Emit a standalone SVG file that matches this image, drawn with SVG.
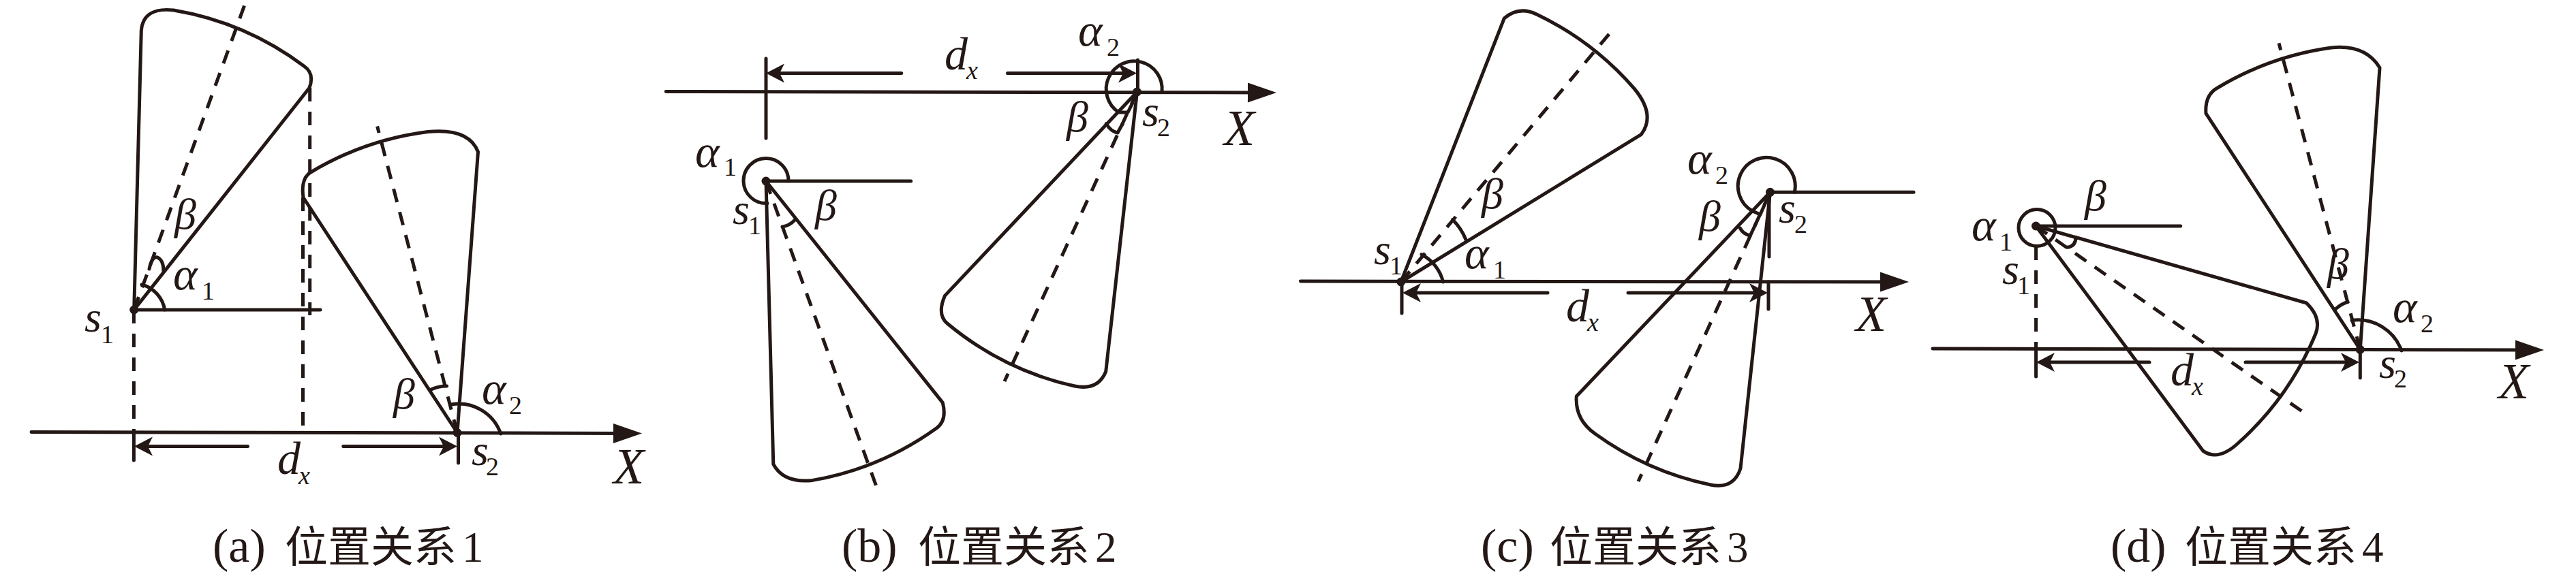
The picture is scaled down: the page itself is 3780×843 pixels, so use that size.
<svg xmlns="http://www.w3.org/2000/svg" width="3780" height="843" viewBox="0 0 3780 843">
<style>
.l{fill:none;stroke:#231815;stroke-width:5;stroke-linecap:round;stroke-linejoin:round}
.d{fill:none;stroke:#231815;stroke-width:5;stroke-dasharray:20 15;stroke-linecap:butt}
.ax{marker-end:url(#axh)}
.dm{marker-end:url(#dimh)}
.dot{fill:#231815}
text{fill:#231815;font-family:"Liberation Serif","Noto Sans CJK SC",serif}
.m{font-size:64px;font-style:italic}
.a{font-size:68px;font-style:italic}
.e{font-size:68px;font-style:italic}
.xl{font-size:74px;font-style:italic}
.s{font-size:38px;font-style:normal}
.si{font-size:38px;font-style:italic}
.c{font-size:63px}
.p{font-size:70px}
</style>
<defs>
<marker id="axh" markerUnits="userSpaceOnUse" viewBox="-25 -16 50 32" refX="0" refY="0" markerWidth="50" markerHeight="32" orient="auto"><path d="M20,0L-22,-14.5L-22,14.5Z" fill="#231815"/></marker>
<marker id="dimh" markerUnits="userSpaceOnUse" viewBox="-15 -16 35 32" refX="0" refY="0" markerWidth="35" markerHeight="32" orient="auto"><path d="M15,0L-12,-14L-5,0L-12,14Z" fill="#231815"/></marker>
</defs>

<g id="panel-a">
<path class="l" d="M196.7,455L207.3,45Q210,10 255,15A441,441 0 0 1 446,97Q462,108 454,129Z"/>
<path class="l" d="M671,635.5L701.5,223Q688,187.7 628,193.5A441,441 0 0 0 456,253Q441,262 445,290Z"/>
<path class="d" d="M196.7,455L361.6,0"/>
<path class="d" d="M671,635.5L553.6,185.5"/>
<path class="d" d="M454.7,129V463"/>
<path class="d" d="M196.4,455V634"/>
<path class="d" d="M444.5,290V640"/>
<path class="l" d="M196.7,455H470"/>
<path class="l ax" d="M46,634.4L922,636.5"/>
<path class="l" d="M196.4,634V676M672.5,636V680"/>
<path class="l dm" d="M363.5,655.4H212"/>
<path class="l dm" d="M503.8,655.4H656"/>
<path class="l" d="M241.7,455A46,46 0 0 0 208,418"/>
<path class="l" d="M219,395Q223,376 231,378Q240,382 240,398"/>
<path class="l" d="M662,594A65,65 0 0 1 734.7,637"/>
<path class="l" d="M631.4,572.6Q643,567 655.6,567"/>
<circle class="dot" cx="196.7" cy="455" r="6.5"/><circle class="dot" cx="671" cy="635.5" r="6.5"/>
<text class="m" x="124" y="487">s<tspan class="s" x="148" y="504">1</tspan></text>
<text class="m" x="256" y="336">β</text>
<text class="a" x="254" y="425">α<tspan class="s" x="296" y="440">1</tspan></text>
<text class="m" x="577" y="600">β</text>
<text class="a" x="707" y="593">α<tspan class="s" x="747" y="608">2</tspan></text>
<text class="m" x="692" y="683">s<tspan class="s" x="713" y="698">2</tspan></text>
<text class="e" x="407" y="696">d<tspan class="si" x="438" y="711">x</tspan></text>
<text class="xl" x="900" y="710">X</text>
<text class="c" x="312" y="825"><tspan class="p">(a)</tspan><tspan x="418">位置关系</tspan><tspan dx="8">1</tspan></text>
</g>

<g id="panel-b">
<path class="l" d="M1124,266L1134.8,681.7Q1150,710 1192.4,705.4A441,441 0 0 0 1374,629Q1390,617.6 1383.3,591.4Z"/>
<path class="l" d="M1668.5,135L1386.4,434.4Q1374.6,462 1390,475A441,441 0 0 0 1577,567Q1611,574 1622.7,545.7Z"/>
<path class="d" d="M1124,266L1288,720"/>
<path class="d" d="M1668.5,135L1474,560"/>
<path class="l" d="M1124,266H1336.7"/>
<path class="l ax" d="M977.3,134.4L1853,136"/>
<path class="l" d="M1124,86V203M1669.5,88V135"/>
<path class="l dm" d="M1322.7,107.5H1139"/>
<path class="l dm" d="M1478.5,107.5H1653"/>
<path class="l" d="M1157,266A33,33 0 1 0 1126,298.5"/>
<path class="l" d="M1148,333Q1158,332 1167,322.6"/>
<path class="l" d="M1705,135A41,41 0 1 0 1641.7,165L1655,165L1661.7,151.7"/>
<path class="l" d="M1623.3,181.7Q1630,193 1640,195L1647.3,181.7"/>
<circle class="dot" cx="1124" cy="266" r="6.5"/><circle class="dot" cx="1668.5" cy="135" r="6.5"/>
<text class="a" x="1020" y="245">α<tspan class="s" x="1062" y="258">1</tspan></text>
<text class="m" x="1075" y="329">s<tspan class="s" x="1098" y="344">1</tspan></text>
<text class="m" x="1196" y="323">β</text>
<text class="a" x="1582" y="67">α<tspan class="s" x="1624" y="82">2</tspan></text>
<text class="e" x="1386" y="102">d<tspan class="si" x="1418" y="116">x</tspan></text>
<text class="m" x="1565" y="193">β</text>
<text class="m" x="1676" y="185">s<tspan class="s" x="1698" y="200">2</tspan></text>
<text class="xl" x="1796" y="213">X</text>
<text class="c" x="1235" y="825"><tspan class="p">(b)</tspan><tspan x="1347">位置关系</tspan><tspan dx="8">2</tspan></text>
</g>

<g id="panel-c">
<path class="l" d="M2055.8,414L2207.3,26.9Q2229,8 2255.8,21.5A441,441 0 0 1 2398,130Q2430,168.5 2408.5,197.3Z"/>
<path class="l" d="M2597.5,282.3L2313.3,582Q2311,616 2340.6,637A441,441 0 0 0 2510,712Q2544,719 2554,688Z"/>
<path class="d" d="M2055.8,414L2364.8,45.7"/>
<path class="d" d="M2597.5,282.3L2404,707"/>
<path class="l" d="M2597.5,282.3H2808"/>
<path class="l ax" d="M1908.5,413L2781,414"/>
<path class="l" d="M2596,282V377M2057,414V460M2595,414V454"/>
<path class="l dm" d="M2271,430H2073"/>
<path class="l dm" d="M2389,430H2579"/>
<path class="l" d="M2117.6,414A62,62 0 0 0 2086,373.7"/>
<path class="l" d="M2131.5,322.6A88,88 0 0 1 2151,352"/>
<path class="l" d="M2633.3,282.3A42,42 0 1 0 2571.7,310L2583,315L2591,296.7"/>
<path class="l" d="M2553.3,335Q2558,344 2568.3,346L2577.3,326.7"/>
<circle class="dot" cx="2055.8" cy="414" r="6.5"/><circle class="dot" cx="2597.5" cy="282.3" r="6.5"/>
<text class="m" x="2016" y="388">s<tspan class="s" x="2039" y="403">1</tspan></text>
<text class="m" x="2174" y="306">β</text>
<text class="a" x="2149" y="394">α<tspan class="s" x="2191" y="409">1</tspan></text>
<text class="a" x="2476" y="255">α<tspan class="s" x="2517" y="270">2</tspan></text>
<text class="m" x="2493" y="339">β</text>
<text class="m" x="2610" y="327">s<tspan class="s" x="2633" y="342">2</tspan></text>
<text class="e" x="2298" y="472">d<tspan class="si" x="2329" y="486">x</tspan></text>
<text class="xl" x="2723" y="486">X</text>
<text class="c" x="2173" y="825"><tspan class="p">(c)</tspan><tspan x="2274">位置关系</tspan><tspan dx="8">3</tspan></text>
</g>

<g id="panel-d">
<path class="l" d="M2987.5,332L3384.5,445Q3407,466.7 3398,490A441,441 0 0 1 3284.5,650.5Q3255,678 3233,662.4Z"/>
<path class="l" d="M3463.3,513.4L3492,99.5Q3471,65 3421,70A441,441 0 0 0 3254,129Q3235,139.5 3237,166.7Z"/>
<path class="d" d="M2987.5,332L3381.5,606.5"/>
<path class="d" d="M3463.3,513.4L3344,63.4"/>
<path class="d" d="M2987.6,362V512"/>
<path class="l" d="M2987.5,332H3199.7"/>
<path class="l ax" d="M2836,512L3713,514"/>
<path class="l" d="M2987.6,512V553M3463.3,514V555"/>
<path class="l dm" d="M3154,532H3003"/>
<path class="l dm" d="M3295,532H3447"/>
<circle class="l" cx="2989" cy="334.5" r="27"/>
<path class="l" d="M3033.3,363.3Q3046,362 3046,348.3"/>
<path class="l" d="M3451,470.4A68,68 0 0 1 3524,515"/>
<path class="l" d="M3427,454Q3436,446 3445,443.5"/>
<circle class="dot" cx="2987.5" cy="332" r="6.5"/><circle class="dot" cx="3463.3" cy="513.4" r="6.5"/>
<text class="m" x="3059" y="309">β</text>
<text class="a" x="2893" y="353">α<tspan class="s" x="2934" y="368">1</tspan></text>
<text class="m" x="2938" y="417">s<tspan class="s" x="2960" y="432">1</tspan></text>
<text class="m" x="3415" y="409">β</text>
<text class="a" x="3511" y="473">α<tspan class="s" x="3552" y="488">2</tspan></text>
<text class="m" x="3491" y="555">s<tspan class="s" x="3513" y="569">2</tspan></text>
<text class="e" x="3185" y="566">d<tspan class="si" x="3216" y="580">x</tspan></text>
<text class="xl" x="3666" y="585">X</text>
<text class="c" x="3097" y="825"><tspan class="p">(d)</tspan><tspan x="3206">位置关系</tspan><tspan dx="8">4</tspan></text>
</g>
</svg>
